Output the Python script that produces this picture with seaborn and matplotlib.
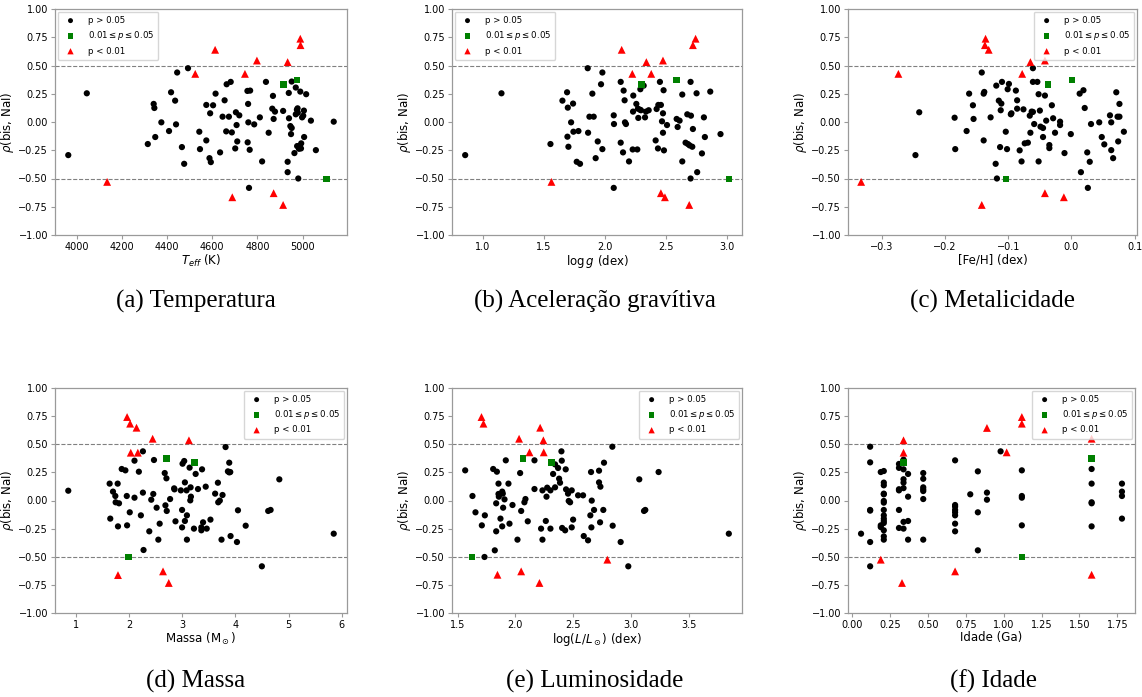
import matplotlib
matplotlib.use("Agg")
import matplotlib.pyplot as plt
import seaborn as sns
import pandas as pd

# ---------------- data ----------------
# (a) Teff
teff_ns = [3963, 4045, 4315, 4341, 4344, 4348, 4375, 4409, 4418, 4436, 4440, 4445, 4466, 4476, 4493,
           4543, 4546, 4574, 4574, 4588, 4594, 4591, 4604, 4615, 4635, 4646, 4655, 4664, 4662, 4674,
           4682, 4687, 4702, 4705, 4708, 4711, 4720, 4756, 4759, 4757, 4760, 4763, 4768, 4766, 4786,
           4811, 4821, 4838, 4850, 4866, 4869, 4872, 4878, 4914, 4939, 4940, 4934, 4934, 4946, 4952,
           4949, 4952, 4964, 4970, 4970, 4975, 4979, 4976, 4978, 4981, 4984, 4990, 4988, 4994, 4993,
           4998, 5003, 5006, 5007, 5016, 5037, 5059, 5138]
rho_teff_ns = [-0.293, 0.254, -0.195, 0.160, 0.124, -0.133, -0.003, -0.080, 0.263, 0.189, -0.021, 0.438, -0.222, -0.370, 0.476,
               -0.086, -0.240, 0.151, -0.163, -0.320, -0.355, 0.077, 0.148, 0.251, -0.269, 0.047, 0.192, 0.334, -0.083, 0.047,
               0.355, -0.092, -0.234, 0.086, -0.027, -0.172, 0.059, 0.275, 0.160, -0.180, -0.003, -0.583, 0.278, -0.246, -0.021,
               0.041, -0.349, 0.355, -0.095, 0.118, 0.231, 0.027, 0.092, 0.098, 0.257, 0.033, -0.352, -0.444, -0.036, -0.053,
               -0.107, 0.358, -0.275, 0.305, 0.068, 0.109, 0.083, -0.213, 0.121, -0.500, -0.237, 0.269, -0.213, -0.189, -0.234,
               0.041, 0.056, 0.101, -0.133, 0.246, 0.012, -0.249, 0.003]
teff_mid = [4915, 4976, 5106]
rho_teff_mid = [0.334, 0.370, -0.506]
teff_sig = [4135, 4525, 4613, 4689, 4745, 4798, 4872, 4914, 4934, 4990, 4991]
rho_teff_sig = [-0.530, 0.426, 0.639, -0.666, 0.426, 0.544, -0.630, -0.734, 0.530, 0.737, 0.680]

# (b) log g
logg_ns = [0.858, 1.155, 1.556, 1.654, 1.692, 1.698, 1.703, 1.695, 1.725, 1.741, 1.744, 1.771, 1.785, 1.798,
           1.861, 1.864, 1.875, 1.899, 1.910, 1.926, 1.943, 1.970, 1.981, 1.981, 2.074, 2.076, 2.074, 2.131,
           2.150, 2.155, 2.163, 2.166, 2.174, 2.131, 2.199, 2.229, 2.232, 2.234, 2.259, 2.267, 2.272, 2.275,
           2.289, 2.297, 2.292, 2.319, 2.330, 2.338, 2.360, 2.417, 2.425, 2.436, 2.439, 2.452, 2.460, 2.469,
           2.477, 2.477, 2.482, 2.485, 2.510, 2.589, 2.597, 2.613, 2.635, 2.635, 2.662, 2.676, 2.681, 2.695,
           2.703, 2.703, 2.706, 2.717, 2.722, 2.752, 2.757, 2.796, 2.812, 2.820, 2.864, 2.948]
rho_logg_ns = [-0.293, 0.254, -0.195, 0.189, 0.263, 0.127, -0.219, -0.130, -0.003, 0.163, -0.086, -0.352, -0.080, -0.370,
               0.476, -0.095, 0.047, 0.251, 0.047, -0.320, -0.172, 0.334, 0.438, -0.240, 0.059, -0.018, -0.583, -0.183,
               -0.269, 0.278, 0.192, -0.003, -0.018, 0.355, -0.349, -0.243, 0.092, 0.234, 0.160, -0.243, 0.118, 0.036,
               0.109, 0.104, 0.290, 0.322, 0.041, 0.092, 0.104, -0.163, 0.115, -0.234, 0.151, 0.355, 0.151, 0.006,
               0.077, -0.095, 0.281, -0.251, -0.027, 0.027, -0.044, 0.012, 0.243, -0.349, -0.183, 0.068, -0.195, -0.207,
               0.355, -0.500, 0.056, -0.219, -0.062, 0.254, -0.444, -0.278, 0.041, -0.133, 0.269, -0.107]
logg_mid = [2.300, 2.589, 3.016]
rho_logg_mid = [0.334, 0.370, -0.506]
logg_sig = [1.564, 2.139, 2.226, 2.341, 2.381, 2.460, 2.477, 2.493, 2.692, 2.722, 2.744]
rho_logg_sig = [-0.530, 0.639, 0.426, 0.530, 0.426, -0.630, 0.544, -0.666, -0.734, 0.680, 0.737]

# (c) [Fe/H]
feh_ns = [-0.247, -0.241, -0.185, -0.184, -0.166, -0.162, -0.156, -0.155, -0.142, -0.139, -0.138, -0.139, -0.128,
          -0.120, -0.119, -0.118, -0.115, -0.113, -0.112, -0.111, -0.110, -0.104, -0.102, -0.101, -0.099, -0.096,
          -0.095, -0.088, -0.086, -0.086, -0.082, -0.079, -0.076, -0.074, -0.069, -0.066, -0.065, -0.063, -0.061,
          -0.061, -0.061, -0.059, -0.054, -0.052, -0.052, -0.050, -0.049, -0.045, -0.045, -0.042, -0.040, -0.035,
          -0.035, -0.031, -0.029, -0.026, -0.018, -0.018, -0.011, -0.001, 0.013, 0.015, 0.019, 0.021, 0.025, 0.026,
          0.029, 0.031, 0.044, 0.048, 0.052, 0.061, 0.063, 0.063, 0.066, 0.071, 0.073, 0.074, 0.076, 0.076, 0.083]
rho_feh_ns = [-0.293, 0.086, 0.038, -0.240, -0.080, 0.251, 0.148, 0.027, 0.438, 0.251, 0.266, -0.163, 0.041,
              -0.370, 0.322, -0.500, 0.189, -0.222, 0.104, 0.163, 0.355, -0.086, -0.240, 0.290, 0.337, 0.068,
              0.077, 0.278, 0.118, 0.192, -0.251, -0.349, 0.112, -0.189, -0.183, 0.056, -0.095, 0.092, 0.476,
              0.089, 0.355, -0.018, 0.355, -0.349, 0.246, 0.101, -0.041, -0.053, -0.133, 0.234, 0.012, -0.204,
              -0.231, 0.148, 0.033, -0.095, 0.003, -0.027, -0.275, -0.107, 0.251, -0.444, 0.281, 0.124, -0.269, -0.583,
              -0.352, -0.018, -0.003, -0.133, -0.198, 0.059, -0.249, -0.003, -0.320, 0.263, 0.047, -0.172, 0.047, 0.160, -0.086]
feh_mid = [-0.037, 0.001, -0.104]
rho_feh_mid = [0.334, 0.370, -0.506]
feh_sig = [-0.333, -0.274, -0.142, -0.136, -0.137, -0.131, -0.078, -0.065, -0.042, -0.042, -0.012]
rho_feh_sig = [-0.530, 0.426, -0.734, 0.737, 0.680, 0.639, 0.426, 0.530, 0.544, -0.630, -0.666]

# (d) Mass
mass_ns = [0.861, 1.638, 1.650, 1.701, 1.745, 1.751, 1.789, 1.795, 1.814, 1.865, 1.934, 1.960, 1.966, 2.016,
           2.105, 2.105, 2.187, 2.225, 2.263, 2.263, 2.275, 2.383, 2.420, 2.458, 2.471, 2.521, 2.553, 2.578,
           2.673, 2.686, 2.705, 2.711, 2.774, 2.850, 2.856, 2.875, 2.976, 2.999, 2.999, 3.008, 3.039, 3.052,
           3.052, 3.083, 3.090, 3.090, 3.140, 3.153, 3.159, 3.165, 3.222, 3.254, 3.298, 3.374, 3.393, 3.443,
           3.462, 3.532, 3.361, 3.361, 3.620, 3.672, 3.678, 3.708, 3.740, 3.759, 3.816, 3.860, 3.885, 3.885,
           3.904, 3.910, 4.030, 4.049, 4.194, 4.498, 4.617, 4.662, 4.826, 5.848]
rho_mass_ns = [0.087, 0.150, -0.161, 0.079, 0.040, -0.016, 0.150, -0.230, -0.025, 0.280, 0.268, 0.040, -0.221, -0.105,
               0.354, 0.025, 0.256, -0.132, 0.437, 0.070, -0.440, -0.274, 0.007, 0.058, 0.360, -0.064, -0.348, -0.206,
               0.244, -0.043, 0.197, -0.093, 0.013, 0.108, 0.099, -0.185, 0.090, -0.084, -0.239, 0.327, 0.351, 0.161,
               -0.182, 0.090, -0.132, -0.348, 0.292, 0.001, 0.117, 0.034, -0.250, 0.236, 0.102, 0.277, -0.194, 0.123,
               -0.250, -0.170, -0.239, -0.265, 0.061, 0.158, -0.016, -0.001, -0.348, 0.049, 0.475, 0.259, 0.250, 0.336,
               0.253, -0.316, -0.369, -0.087, -0.224, -0.585, -0.093, -0.084, 0.188, -0.295]
mass_mid = [2.705, 3.229, 1.991]
rho_mass_mid = [0.372, 0.336, -0.502]
mass_sig = [1.966, 2.023, 2.143, 2.446, 2.035, 2.168, 3.128, 1.795, 2.641, 2.749]
rho_mass_sig = [0.742, 0.683, 0.647, 0.549, 0.425, 0.425, 0.535, -0.663, -0.630, -0.733]

# (e) log(L/Lsun)
lum_ns = [1.566, 1.629, 1.655, 1.710, 1.733, 1.736, 1.808, 1.822, 1.834, 1.834, 1.840, 1.854, 1.854, 1.857,
          1.871, 1.886, 1.886, 1.891, 1.894, 1.906, 1.917, 1.940, 1.949, 1.975, 2.018, 2.041, 2.050, 2.078,
          2.087, 2.107, 2.165, 2.165, 2.222, 2.234, 2.234, 2.263, 2.269, 2.275, 2.303, 2.303, 2.326, 2.343,
          2.343, 2.369, 2.378, 2.386, 2.398, 2.401, 2.404, 2.430, 2.435, 2.438, 2.455, 2.461, 2.473, 2.487,
          2.487, 2.499, 2.542, 2.585, 2.591, 2.628, 2.648, 2.654, 2.660, 2.657, 2.680, 2.723, 2.723, 2.735,
          2.732, 2.760, 2.766, 2.838, 2.841, 2.910, 2.976, 3.071, 3.112, 3.123, 3.238, 3.845]
rho_lum_ns = [0.268, 0.040, -0.105, -0.221, -0.502, -0.132, 0.280, -0.443, -0.274, -0.025, 0.256, 0.150, 0.058, 0.034,
              -0.161, 0.079, -0.230, 0.061, -0.064, 0.010, 0.357, 0.150, -0.206, -0.040, -0.348, 0.244, -0.093, -0.016,
              0.013, -0.185, 0.357, 0.102, -0.250, 0.090, -0.348, -0.182, 0.034, 0.114, 0.090, -0.250, 0.236, 0.321,
              0.117, 0.289, 0.194, 0.158, 0.437, 0.354, -0.244, -0.265, 0.277, 0.099, 0.061, -0.004, -0.016, 0.090,
              -0.239, -0.170, 0.046, 0.046, -0.316, -0.354, -0.132, 0.253, -0.001, -0.239, -0.084, 0.265, 0.161, 0.123,
              -0.194, -0.084, 0.336, 0.478, -0.224, -0.369, -0.585, 0.188, -0.093, -0.084, 0.253, -0.295]
lum_mid = [1.624, 2.067, 2.311]
rho_lum_mid = [-0.502, 0.372, 0.336]
lum_sig = [1.707, 1.724, 1.845, 2.032, 2.050, 2.122, 2.214, 2.208, 2.242, 2.245, 2.795]
rho_lum_sig = [0.742, 0.683, -0.660, 0.549, -0.630, 0.428, 0.647, -0.733, 0.535, 0.428, -0.526]

# (f) Age
age_ns = [0.06,
          0.12, 0.12, 0.12, 0.12, 0.12, 0.12,
          0.19, 0.19, 0.19,
          0.21, 0.21, 0.21, 0.21, 0.21, 0.21, 0.21, 0.21, 0.21, 0.21, 0.21, 0.21, 0.21, 0.21, 0.21,
          0.31, 0.31, 0.31, 0.31, 0.31, 0.31,
          0.34, 0.34, 0.34, 0.34, 0.34, 0.34, 0.34,
          0.37, 0.37, 0.37, 0.37,
          0.47, 0.47, 0.47, 0.47, 0.47, 0.47, 0.47,
          0.68, 0.68, 0.68, 0.68, 0.68, 0.68, 0.68, 0.68,
          0.78,
          0.83, 0.83, 0.83,
          0.89, 0.89,
          0.98,
          1.12, 1.12, 1.12, 1.12,
          1.58, 1.58, 1.58, 1.58, 1.58,
          1.78, 1.78, 1.78, 1.78]
rho_age_ns = [-0.295,
              0.478, 0.339, -0.084, -0.090, -0.369, -0.585,
              0.253, -0.221, -0.236,
              0.262, 0.159, 0.135, 0.061, 0.055, -0.004, -0.019, -0.084, -0.132, -0.161, -0.182, -0.200, -0.265, -0.319, -0.348,
              0.325, 0.290, 0.100, 0.090, -0.084, -0.244,
              0.363, 0.277, 0.189, 0.159, 0.110, -0.190, -0.250,
              0.236, 0.034, -0.348, -0.182,
              0.244, 0.193, 0.117, 0.099, 0.084, 0.013, -0.348,
              0.357, -0.040, -0.055, -0.084, -0.105, -0.132, -0.206, -0.274,
              0.055,
              0.259, -0.105, -0.443,
              0.070, 0.007,
              0.437,
              0.268, 0.040, 0.025, -0.221,
              0.280, 0.150, -0.016, -0.025, -0.230,
              0.150, 0.079, 0.040, -0.161]
age_mid = [0.34, 1.12, 1.58]
rho_age_mid = [0.336, -0.502, 0.372]
age_sig = [0.19, 0.33, 0.34, 0.34, 0.68, 0.89, 1.02, 1.12, 1.12, 1.58, 1.58]
rho_age_sig = [-0.526, -0.733, 0.535, 0.425, -0.630, 0.645, 0.428, 0.742, 0.683, 0.549, -0.660]

xlabels = [r"$T_{eff}$ (K)", r"$\log g$ (dex)", "[Fe/H] (dex)",
           r"Massa (M$_\odot$)", r"log($L/L_\odot$) (dex)", "Idade (Ga)"]
captions = ["(a) Temperatura", "(b) Aceleração gravítiva", "(c) Metalicidade",
            "(d) Massa", "(e) Luminosidade", "(f) Idade"]
legend_labels = ["p > 0.05", r"0.01$\leq p \leq$0.05", "p < 0.01"]

panels = [
    (teff_ns, rho_teff_ns, teff_mid, rho_teff_mid, teff_sig, rho_teff_sig),
    (logg_ns, rho_logg_ns, logg_mid, rho_logg_mid, logg_sig, rho_logg_sig),
    (feh_ns, rho_feh_ns, feh_mid, rho_feh_mid, feh_sig, rho_feh_sig),
    (mass_ns, rho_mass_ns, mass_mid, rho_mass_mid, mass_sig, rho_mass_sig),
    (lum_ns, rho_lum_ns, lum_mid, rho_lum_mid, lum_sig, rho_lum_sig),
    (age_ns, rho_age_ns, age_mid, rho_age_mid, age_sig, rho_age_sig),
]
legend_locs = ["upper left", "upper left", "upper right", "upper right", "upper right", "upper right"]

# ---------------- layout ----------------
W, H = 1142, 697
fig = plt.figure(figsize=(W / 100, H / 100), dpi=100)
boxes = [(55, 347, 9, 235), (452, 742, 9, 235), (848, 1137, 9, 235),
         (55, 347, 388, 613), (452, 742, 388, 613), (848, 1135, 388, 613)]
cap_pos = [(196, 301), (595, 301), (992, 301), (196, 681), (595, 681), (994, 681)]

spine_col = "#9a9a9a"
yt = [-1, -0.75, -0.5, -0.25, 0, 0.25, 0.5, 0.75, 1.0]
for i, (box, data) in enumerate(zip(boxes, panels)):
    l, r, t, b = box
    ax = fig.add_axes([l / W, 1 - b / H, (r - l) / W, (b - t) / H])
    xn, yn, xm, ym, xs, ys = data
    sns.scatterplot(x=xn, y=yn, ax=ax, color="black", marker="o", s=20,
                    edgecolor="none", label=legend_labels[0])
    sns.scatterplot(x=xm, y=ym, ax=ax, color="green", marker="s", s=22,
                    edgecolor="none", label=legend_labels[1])
    sns.scatterplot(x=xs, y=ys, ax=ax, color="red", marker="^", s=32,
                    edgecolor="none", label=legend_labels[2])
    ax.axhline(0.5, color="gray", ls="--", lw=0.8, zorder=0)
    ax.axhline(-0.5, color="gray", ls="--", lw=0.8, zorder=0)
    ax.set_ylim(-1, 1)
    ax.set_yticks(yt)
    ax.set_yticklabels([f"{v:.2f}".replace("-", "\u2212") for v in yt])
    ax.set_xlabel(xlabels[i], fontsize=8.5, labelpad=1)
    ax.set_ylabel(r"$\rho$(bis, NaI)", fontsize=8.5, labelpad=2)
    ax.tick_params(labelsize=7, length=3, width=0.8, color=spine_col, pad=2)
    for sp in ax.spines.values():
        sp.set_color(spine_col)
        sp.set_linewidth(0.9)
    leg = ax.legend(loc=legend_locs[i], fontsize=6.2, frameon=True, handletextpad=1.0,
                    borderpad=0.5, labelspacing=0.5, markerscale=0.8,
                    borderaxespad=0.3, handlelength=2.0)
    leg.get_frame().set_edgecolor("#cccccc")
    fig.text(cap_pos[i][0] / W, 1 - cap_pos[i][1] / H, captions[i], ha="center", va="center",
             fontsize=18, family="Liberation Serif")

fig.savefig("out.png", dpi=100)
